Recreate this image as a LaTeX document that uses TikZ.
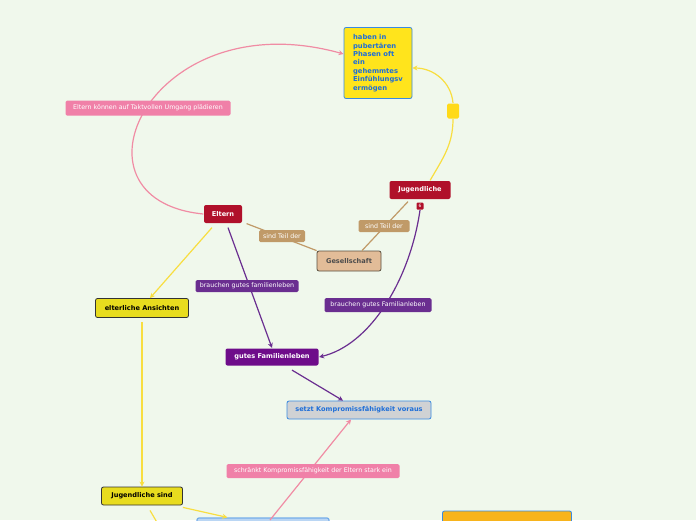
\documentclass[tikz,border=0pt]{standalone}
\usepackage{fontspec}
\setmainfont{DejaVu Sans}
\usetikzlibrary{arrows.meta}

\definecolor{bgcol}{RGB}{240,248,236}
\definecolor{redcol}{RGB}{176,16,42}
\definecolor{tancol}{RGB}{192,154,104}
\definecolor{tanfill}{RGB}{226,188,152}
\definecolor{tanline}{RGB}{90,80,64}
\definecolor{purplab}{RGB}{106,46,144}
\definecolor{purpnode}{RGB}{110,12,138}
\definecolor{pinkcol}{RGB}{240,128,168}
\definecolor{pinkline}{RGB}{240,140,164}
\definecolor{yelline}{RGB}{248,222,64}
\definecolor{yelnode}{RGB}{232,220,30}
\definecolor{topfill}{RGB}{255,228,28}
\definecolor{bluecol}{RGB}{58,138,224}
\definecolor{bluetext}{RGB}{30,110,216}
\definecolor{greyfill}{RGB}{208,210,212}
\definecolor{orangecol}{RGB}{248,180,28}

\tikzset{
  box/.style={rounded corners=2pt, inner sep=0pt, font=\fontsize{6.6}{8}\selectfont\bfseries},
  redbox/.style={box, fill=redcol, text=white},
  yelbox/.style={box, fill=yelnode, draw=black!80, line width=0.8pt, text=black},
  linklabel/.style={rounded corners=1.5pt, inner sep=0pt, minimum height=12pt, text=white, font=\fontsize{6.3}{7}\selectfont},
  arr/.style={-{Stealth[length=5pt,width=5pt]}}
}

\begin{document}
\begin{tikzpicture}[x=1pt, y=-1pt, line width=1.2pt]
    \clip (0,0) rectangle (696,520);
    \fill[bgcol] (0,0) rectangle (696,520);

    % main topics
    \node[box, fill=topfill, draw=bluecol, line width=0.8pt, text=bluetext, minimum width=68pt, minimum height=71pt, align=left, font=\fontsize{6.8}{8.4}\selectfont\bfseries] (gehemmt) at (378,63)
        {haben in\\pubertären\\Phasen oft\\ein\\gehemmtes\\Einfühlungsv\\ermögen};
    \node[redbox, minimum width=38pt, minimum height=18pt] (eltern) at (223,214) {Eltern};
    \node[redbox, minimum width=61pt, minimum height=18pt] (jugend) at (420,190) {Jugendliche};
    \node[fill=redcol, rounded corners=1pt, minimum size=7pt, inner sep=0pt, text=white, font=\fontsize{4.5}{5}\selectfont] (badge) at (420,206) {6};
    \node[box, fill=tanfill, draw=tanline, line width=0.8pt, text=black!70, minimum width=64pt, minimum height=20pt] (gesell) at (349,261) {Gesellschaft};
    \node[yelbox, minimum width=93pt, minimum height=19pt] (ansicht) at (142,308) {elterliche Ansichten};
    \node[box, fill=purpnode, text=white, minimum width=93pt, minimum height=17pt] (familie) at (272,357) {gutes Familienleben};
    \node[box, fill=greyfill, draw=bluecol, line width=0.8pt, text=bluetext, minimum width=144pt, minimum height=18pt] (kompro) at (359,410) {setzt Kompromissfähigkeit voraus};
    \node[yelbox, minimum width=81pt, minimum height=18pt] (jugsind) at (142,496) {Jugendliche sind};

    % boxes cut off at the bottom edge
    \node[box, fill=bluecol!35, draw=bluecol!70, minimum width=132pt, minimum height=18pt] (untenblau) at (263,527) {};
    \node[box, fill=orangecol, draw=bluecol, line width=0.8pt, minimum width=129pt, minimum height=24pt] (untenorange) at (507,523) {};

    % marker on the yellow connector
    \node[fill=topfill!90!orange, rounded corners=1.5pt, minimum width=12pt, minimum height=15pt, inner sep=0pt] (mark) at (453,111) {};

    % connectors
    \draw[pinkline, arr] (eltern.west) .. controls (58,200) and (150,0) .. (gehemmt.west |- 0,54);
    \draw[yelline] ([xshift=-21pt]jugend.north east) to[out=60, in=270] (mark.south);
    \draw[yelline, arr] (mark.north) to[out=95, in=0] (gehemmt.east |- 0,68);
    \draw[tancol] ([xshift=4pt]eltern.south east) -- (gesell.north west);
    \draw[tancol] ([xshift=-12pt,yshift=-2pt]jugend.south) -- ([xshift=13pt]gesell.north);
    \draw[yelline, arr] ([xshift=-11pt,yshift=-4pt]eltern.south) -- ([xshift=8pt]ansicht.north);
    \draw[purplab, arr] ([xshift=5pt,yshift=-4pt]eltern.south) -- (familie.north);
    \draw[purplab, arr] (badge.south) .. controls (410,280) and (370,345) .. (familie.east);
    \draw[purplab, arr] ([xshift=20pt,yshift=-4pt]familie.south) -- ([xshift=-16pt]kompro.north);
    \draw[pinkline, arr] (270,520) coordinate (pinkfrei) -- ([xshift=-8pt]kompro.south);
    \draw[yelline, arr] ([yshift=-4pt]ansicht.south) -- (jugsind.north);
    \draw[yelline, arr] ([yshift=-2pt]jugsind.south east) -- ([xshift=31pt]untenblau.north west);
    \draw[yelline] ([xshift=8pt,yshift=-5pt]jugsind.south) -- ++(7,12);

    % connector labels
    \node[linklabel, fill=pinkcol, minimum width=165pt, minimum height=15pt] (lbtakt) at (148,108) {Eltern können auf Taktvollen Umgang plädieren};
    \node[linklabel, fill=tancol, minimum width=46pt] (lbteil1) at (282,236) {sind Teil der};
    \node[linklabel, fill=tancol, minimum width=51pt] (lbteil2) at (384,226) {sind Teil der};
    \node[linklabel, fill=purplab, minimum width=103pt] (lbfam1) at (247,286) {brauchen gutes familienleben};
    \node[linklabel, fill=purplab, minimum width=107pt, minimum height=14pt] (lbfam2) at (378,305) {brauchen gutes Familianleben};
    \node[linklabel, fill=pinkcol, minimum width=173pt, minimum height=14pt] (lbkompro) at (313,471) {schränkt Kompromissfähigkeit der Eltern stark ein};
\end{tikzpicture}
\end{document}
